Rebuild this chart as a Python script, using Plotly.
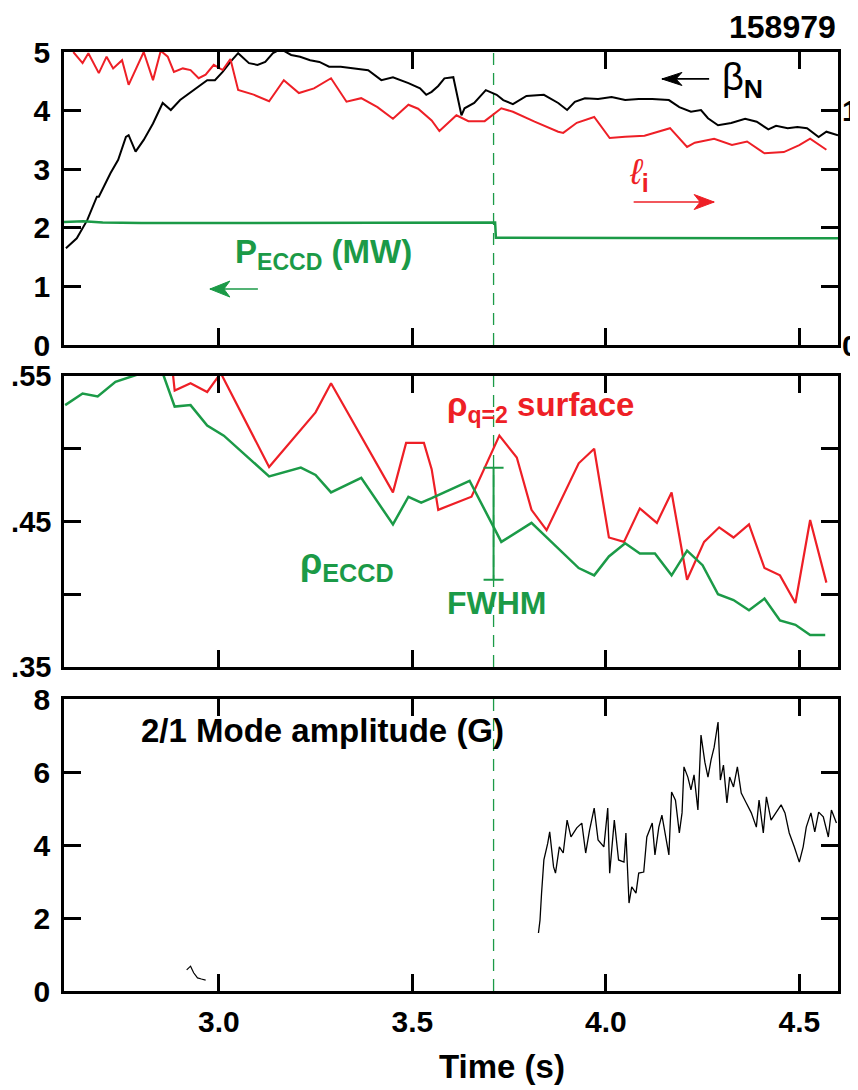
import plotly.graph_objects as go

# ---------------- DATA ----------------
# Panel 1: beta_N (left axis)
betaN_t = [2.605, 2.633, 2.66, 2.685, 2.69, 2.72, 2.74, 2.76, 2.767, 2.785, 2.806, 2.83, 2.855, 2.876,
           2.90, 2.935, 2.97, 2.99, 3.01, 3.03, 3.05, 3.078, 3.10, 3.12, 3.14, 3.16, 3.187, 3.21, 3.236,
           3.26, 3.285, 3.315, 3.35, 3.386, 3.42, 3.45, 3.49, 3.52, 3.536, 3.55, 3.567, 3.583, 3.606,
           3.627, 3.635, 3.66, 3.69, 3.718, 3.735, 3.76, 3.795, 3.84, 3.877, 3.90, 3.92, 3.946, 3.98,
           4.015, 4.05, 4.085, 4.12, 4.163, 4.19, 4.22, 4.246, 4.264, 4.29, 4.324, 4.36, 4.39, 4.42,
           4.44, 4.47, 4.495, 4.52, 4.55, 4.57, 4.60]
betaN_v = [1.65, 1.82, 2.13, 2.53, 2.53, 2.93, 3.16, 3.55, 3.58, 3.30, 3.50, 3.78, 4.13, 4.01,
           4.18, 4.35, 4.52, 4.52, 4.66, 4.83, 4.98, 4.81, 4.78, 4.83, 4.98, 5.05, 4.95, 4.92, 4.86,
           4.83, 4.75, 4.75, 4.72, 4.69, 4.52, 4.57, 4.47, 4.38, 4.27, 4.32, 4.42, 4.55, 4.57,
           3.92, 4.04, 4.13, 4.35, 4.27, 4.18, 4.11, 4.25, 4.27, 4.13, 4.01, 4.15, 4.21, 4.20,
           4.23, 4.18, 4.20, 4.20, 4.18, 4.06, 3.98, 4.01, 3.87, 3.75, 3.79, 3.86, 3.81, 3.68,
           3.74, 3.70, 3.72, 3.70, 3.55, 3.64, 3.58]

# Panel 1: internal inductance l_i (right axis)
li_t = [2.624, 2.648, 2.663, 2.69, 2.71, 2.727, 2.75, 2.767, 2.806, 2.83, 2.85, 2.868, 2.884, 2.907,
        2.927, 2.948, 2.966, 2.987, 3.01, 3.03, 3.05, 3.09, 3.13, 3.168, 3.207, 3.246, 3.29, 3.33,
        3.368, 3.41, 3.45, 3.49, 3.515, 3.55, 3.57, 3.614, 3.645, 3.687, 3.73, 3.76, 3.816, 3.877,
        3.89, 3.925, 3.97, 4.01, 4.05, 4.10, 4.166, 4.21, 4.23, 4.28, 4.326, 4.365, 4.41, 4.46,
        4.50, 4.528, 4.57]
li_v = [1.250, 1.203, 1.245, 1.160, 1.230, 1.180, 1.215, 1.110, 1.250, 1.130, 1.255, 1.230, 1.165, 1.180,
        1.173, 1.138, 1.153, 1.195, 1.173, 1.220, 1.088, 1.068, 1.040, 1.130, 1.075, 1.095, 1.138, 1.038,
        1.053, 1.015, 0.965, 1.025, 1.008, 0.958, 0.913, 0.980, 0.955, 0.955, 1.010, 0.995, 0.953, 0.910,
        0.905, 0.948, 0.973, 0.883, 0.888, 0.893, 0.925, 0.845, 0.863, 0.880, 0.853, 0.868, 0.818, 0.823,
        0.853, 0.880, 0.833]

# Panel 1: ECCD power (MW, left axis)
peccd_t = [2.60, 2.65, 2.70, 2.75, 2.80, 2.90, 3.00, 3.10, 3.20, 3.30, 3.40, 3.50, 3.60, 3.70, 3.714,
           3.716, 3.75, 3.85, 3.95, 4.05, 4.15, 4.25, 4.35, 4.45, 4.55, 4.60]
peccd_v = [2.10, 2.11, 2.09, 2.08, 2.08, 2.08, 2.08, 2.09, 2.08, 2.08, 2.08, 2.08, 2.09, 2.09, 2.09,
           1.83, 1.83, 1.83, 1.82, 1.83, 1.83, 1.82, 1.83, 1.82, 1.82, 1.82]

# Panel 2: rho of q=2 surface
rhoq2_t = [2.88, 2.886, 2.927, 2.97, 3.005, 3.13, 3.25, 3.29, 3.45, 3.484, 3.53, 3.55, 3.567, 3.653,
           3.725, 3.77, 3.808, 3.847, 3.93, 3.97, 4.008, 4.047, 4.088, 4.132, 4.17, 4.21, 4.254,
           4.293, 4.33, 4.37, 4.41, 4.45, 4.49, 4.528, 4.57]
rhoq2_v = [0.555, 0.540, 0.545, 0.539, 0.552, 0.4875, 0.525, 0.545, 0.470, 0.504, 0.504, 0.486, 0.458, 0.467,
           0.509, 0.494, 0.458, 0.444, 0.490, 0.500, 0.439, 0.436, 0.459, 0.449, 0.470, 0.410, 0.436,
           0.446, 0.439, 0.448, 0.418, 0.413, 0.394, 0.451, 0.408]

# Panel 2: rho of ECCD deposition
rhoe_t = [2.603, 2.648, 2.687, 2.733, 2.79, 2.855, 2.886, 2.927, 2.97, 3.013, 3.13, 3.212, 3.25, 3.29,
          3.368, 3.45, 3.49, 3.523, 3.55, 3.648, 3.73, 3.808, 3.93, 3.97, 4.008, 4.05, 4.088, 4.127,
          4.17, 4.21, 4.25, 4.29, 4.33, 4.37, 4.41, 4.45, 4.49, 4.528, 4.567]
rhoe_v = [0.530, 0.538, 0.536, 0.546, 0.551, 0.552, 0.529, 0.530, 0.516, 0.509, 0.481, 0.487, 0.482, 0.470,
          0.480, 0.448, 0.467, 0.463, 0.466, 0.478, 0.436, 0.449, 0.418, 0.413, 0.426, 0.435, 0.428, 0.428,
          0.413, 0.430, 0.420, 0.400, 0.396, 0.389, 0.397, 0.382, 0.379, 0.372, 0.372]

# Panel 2: FWHM bar of ECCD deposition
fwhm_t = [3.71]
fwhm_center = [0.4485]
fwhm_half = [0.0385]

# Panel 3: 2/1 mode amplitude (G)
mode_t = [2.917, 2.927, 2.935, 2.945, 2.955, 2.966,
          3.826, 3.83, 3.834, 3.84, 3.85, 3.855, 3.865, 3.87, 3.88, 3.89, 3.90, 3.91, 3.925, 3.938,
          3.948, 3.958, 3.97, 3.98, 3.995, 4.005, 4.01, 4.022, 4.033, 4.047, 4.052, 4.06, 4.067,
          4.078, 4.085, 4.098, 4.106, 4.12, 4.127, 4.137, 4.145, 4.153, 4.163, 4.17, 4.18, 4.19,
          4.197, 4.202, 4.212, 4.22, 4.228, 4.238, 4.246, 4.256, 4.264, 4.272, 4.28, 4.29, 4.296,
          4.304, 4.313, 4.32, 4.33, 4.34, 4.35, 4.363, 4.376, 4.389, 4.396, 4.407, 4.415, 4.427,
          4.44, 4.453, 4.463, 4.474, 4.487, 4.50, 4.51, 4.518, 4.53, 4.54, 4.55, 4.562, 4.575,
          4.583, 4.596]
mode_v = [0.58, 0.68, 0.50, 0.36, 0.33, 0.30,
          1.59, 1.94, 2.68, 3.59, 4.05, 4.36, 3.40, 3.23, 3.95, 3.78, 4.68, 4.22, 4.47, 4.60,
          3.78, 4.41, 5.01, 4.14, 3.95, 5.01, 3.23, 4.68, 3.59, 3.53, 4.33, 2.41, 2.85,
          2.68, 3.23, 3.26, 4.22, 4.60, 3.73, 4.49, 4.82, 4.36, 3.73, 5.45, 5.23, 4.33,
          4.88, 6.14, 5.86, 5.51, 5.92, 4.96, 7.01, 6.27, 5.86, 6.33, 6.68, 7.37, 5.78,
          6.19, 5.15, 5.86, 5.59, 6.14, 5.42, 5.15, 4.88, 4.49, 5.23, 4.33, 5.32, 4.68,
          4.90, 5.10, 4.88, 4.33, 3.95, 3.53, 3.95, 4.49, 4.88, 4.36, 4.90, 4.77, 4.22,
          4.96, 4.60]

step_time = 3.71  # ECCD power step / vertical marker
shot_label = "158979"

# ---------------- STYLE ----------------
RED = "#EE1F26"
GREEN = "#1B9A47"
FONT = "Liberation Sans"
OFF = 8                      # page body margin of the browser
W, H = 858 - OFF, 1090 - OFF

fig = go.Figure()

fig.add_trace(go.Scatter(x=betaN_t, y=betaN_v, mode="lines", line=dict(color="black", width=2),
                         xaxis="x", yaxis="y", showlegend=False))
fig.add_trace(go.Scatter(x=peccd_t, y=peccd_v, mode="lines", line=dict(color=GREEN, width=2.5),
                         xaxis="x", yaxis="y", showlegend=False))
fig.add_trace(go.Scatter(x=li_t, y=li_v, mode="lines", line=dict(color=RED, width=2),
                         xaxis="x", yaxis="y4", showlegend=False))

fig.add_trace(go.Scatter(x=rhoq2_t, y=rhoq2_v, mode="lines", line=dict(color=RED, width=2.2),
                         xaxis="x2", yaxis="y2", showlegend=False))
fig.add_trace(go.Scatter(x=rhoe_t, y=rhoe_v, mode="lines", line=dict(color=GREEN, width=2.5),
                         xaxis="x2", yaxis="y2", showlegend=False))
fig.add_trace(go.Scatter(x=fwhm_t, y=fwhm_center, mode="markers", marker=dict(size=1, color=GREEN, opacity=0),
                         error_y=dict(type="data", array=fwhm_half, visible=True, color=GREEN,
                                      thickness=2, width=10),
                         xaxis="x2", yaxis="y2", showlegend=False))

fig.add_trace(go.Scatter(x=mode_t[:6], y=mode_v[:6], mode="lines", line=dict(color="black", width=1.2),
                         xaxis="x3", yaxis="y3", showlegend=False))
fig.add_trace(go.Scatter(x=mode_t[6:], y=mode_v[6:], mode="lines", line=dict(color="black", width=1.3),
                         xaxis="x3", yaxis="y3", showlegend=False))


def px(x):
    return (x - OFF) / W


def py(y):
    return 1 - (y - OFF) / H


xdom = [px(64), px(838)]
def ydom(top, bot):
    return [py(bot), py(top)]

tickfont = dict(family=FONT, size=30, color="black", weight="bold")
xcommon = dict(range=[2.6, 4.6], tickvals=[3.0, 3.5, 4.0, 4.5], ticks="inside", ticklen=17, tickwidth=2.5,
               tickcolor="black", showline=True, linewidth=2.5, linecolor="black", mirror="ticks",
               showgrid=False, zeroline=False, domain=xdom, tickfont=tickfont, ticklabelstandoff=2,
               automargin=False)
ycommon = dict(ticks="inside", ticklen=17, tickwidth=2.5, tickcolor="black", showline=True, linewidth=2.5,
               linecolor="black", showgrid=False, zeroline=False, tickfont=tickfont, ticklabelstandoff=5,
               automargin=False)
minor = lambda d: dict(ticks="inside", ticklen=17, tickwidth=2.5, tickcolor="black", tickmode="linear",
                       tick0=0, dtick=d, showgrid=False)

y2common = dict(ycommon)
y2common.update(tickfont=dict(family=FONT, size=29, color="black", weight="bold"), ticklabelstandoff=4)

fig.update_layout(
    template="none",
    width=W, height=H, margin=dict(l=0, r=0, t=0, b=0, autoexpand=False),
    paper_bgcolor="white", plot_bgcolor="white",
    xaxis=dict(**xcommon, anchor="y", showticklabels=False),
    xaxis2=dict(**xcommon, anchor="y2", showticklabels=False),
    xaxis3=dict(**xcommon, anchor="y3", showticklabels=True, ticktext=["3.0", "3.5", "4.0", "4.5"]),
    yaxis=dict(**ycommon, domain=ydom(52, 345), range=[0, 5], tickvals=[0, 1, 2, 3, 4, 5], mirror=True,
               anchor="x"),
    yaxis4=dict(ticks="inside", ticklen=17, tickwidth=2.5, tickcolor="black", showline=False,
                showgrid=False, zeroline=False, tickfont=tickfont, overlaying="y", side="right",
                range=[0, 1.25], tickvals=[0, 1.0], ticktext=["0", "1"], minor=minor(0.25),
                anchor="x", ticklabelstandoff=3, automargin=False),
    yaxis2=dict(**y2common, domain=ydom(376, 667), range=[0.35, 0.55],
                tickvals=[0.35, 0.45, 0.55], ticktext=[".35", ".45", ".55"], minor=minor(0.05),
                mirror="ticks", anchor="x2"),
    yaxis3=dict(**ycommon, domain=ydom(699, 991), range=[0, 8], tickvals=[0, 2, 4, 6, 8],
                mirror="ticks", anchor="x3"),
)

# vertical dashed marker through all panels
for xr, yr in [("x", "y domain"), ("x2", "y2 domain"), ("x3", "y3 domain")]:
    fig.add_shape(type="line", xref=xr, yref=yr, x0=step_time, x1=step_time, y0=0, y1=1,
                  line=dict(color=GREEN, width=1.3, dash="12px,8px"), layer="below")


def arrow(t_tail, t_head, v, yref, color, width, head_len, head_half):
    """Horizontal arrow drawn with shapes: shaft line + notched head (pixel-sized)."""
    d = 1 if t_head > t_tail else -1
    fig.add_shape(type="line", xref="x", yref=yref, x0=t_tail, x1=t_head, y0=v, y1=v,
                  line=dict(color=color, width=width))
    L, hh, notch = head_len, head_half, head_len * 0.7
    path = (f"M0,0 L{-d*L},{hh} L{-d*notch},0 L{-d*L},{-hh} Z")
    fig.add_shape(type="path", xref="x", yref=yref, xsizemode="pixel", ysizemode="pixel",
                  xanchor=t_head, yanchor=v, path=path, fillcolor=color,
                  line=dict(color=color, width=1))


arrow(4.267, 4.145, 4.54, "y", "black", 1.8, 20, 6.5)   # beta_N
arrow(4.072, 4.28, 2.44, "y", RED, 1.6, 20, 7.5)        # l_i
arrow(3.101, 2.977, 0.955, "y", GREEN, 1.6, 20, 8)      # P_ECCD

bold = lambda s, c="black": dict(family=FONT, size=s, color=c, weight="bold")
normal = lambda s, c="black": dict(family=FONT, size=s, color=c, weight="normal")

ann = []
ann.append(dict(text=shot_label, xref="paper", yref="paper", x=px(838), y=py(27), xanchor="right",
                yanchor="middle", showarrow=False, font=bold(32)))
ann.append(dict(text="β<sub><b>N</b></sub>", xref="x", yref="y", x=4.296, y=4.52, xanchor="left",
                yanchor="middle", showarrow=False, font=normal(38)))
ann.append(dict(text="<i>ℓ</i><sub><b>i</b></sub>", xref="x", yref="y", x=4.055, y=2.92, xanchor="left",
                yanchor="middle", showarrow=False, font=normal(36, RED)))
ann.append(dict(text="P<sub>ECCD</sub> (MW)", xref="x", yref="y", x=3.037, y=1.55, xanchor="left",
                yanchor="middle", showarrow=False, font=bold(33, GREEN)))
ann.append(dict(text="ρ<sub>q=2</sub> surface", xref="x2", yref="y2", x=3.585, y=0.529, xanchor="left",
                yanchor="middle", showarrow=False, font=bold(33, RED)))
ann.append(dict(text="ρ<sub>ECCD</sub>", xref="x2", yref="y2", x=3.205, y=0.421, xanchor="left",
                yanchor="middle", showarrow=False, font=bold(36, GREEN)))
ann.append(dict(text="FWHM", xref="x2", yref="y2", x=3.585, y=0.394, xanchor="left",
                yanchor="middle", showarrow=False, font=bold(32, GREEN)))
ann.append(dict(text="2/1 Mode amplitude (G)", xref="x3", yref="y3", x=2.795, y=7.15, xanchor="left",
                yanchor="middle", showarrow=False, font=bold(33)))
ann.append(dict(text="Time (s)", xref="paper", yref="paper", x=px(502), y=py(1066), xanchor="center",
                yanchor="middle", showarrow=False, font=bold(33)))

fig.update_layout(annotations=ann)
fig.write_html("out.html")
